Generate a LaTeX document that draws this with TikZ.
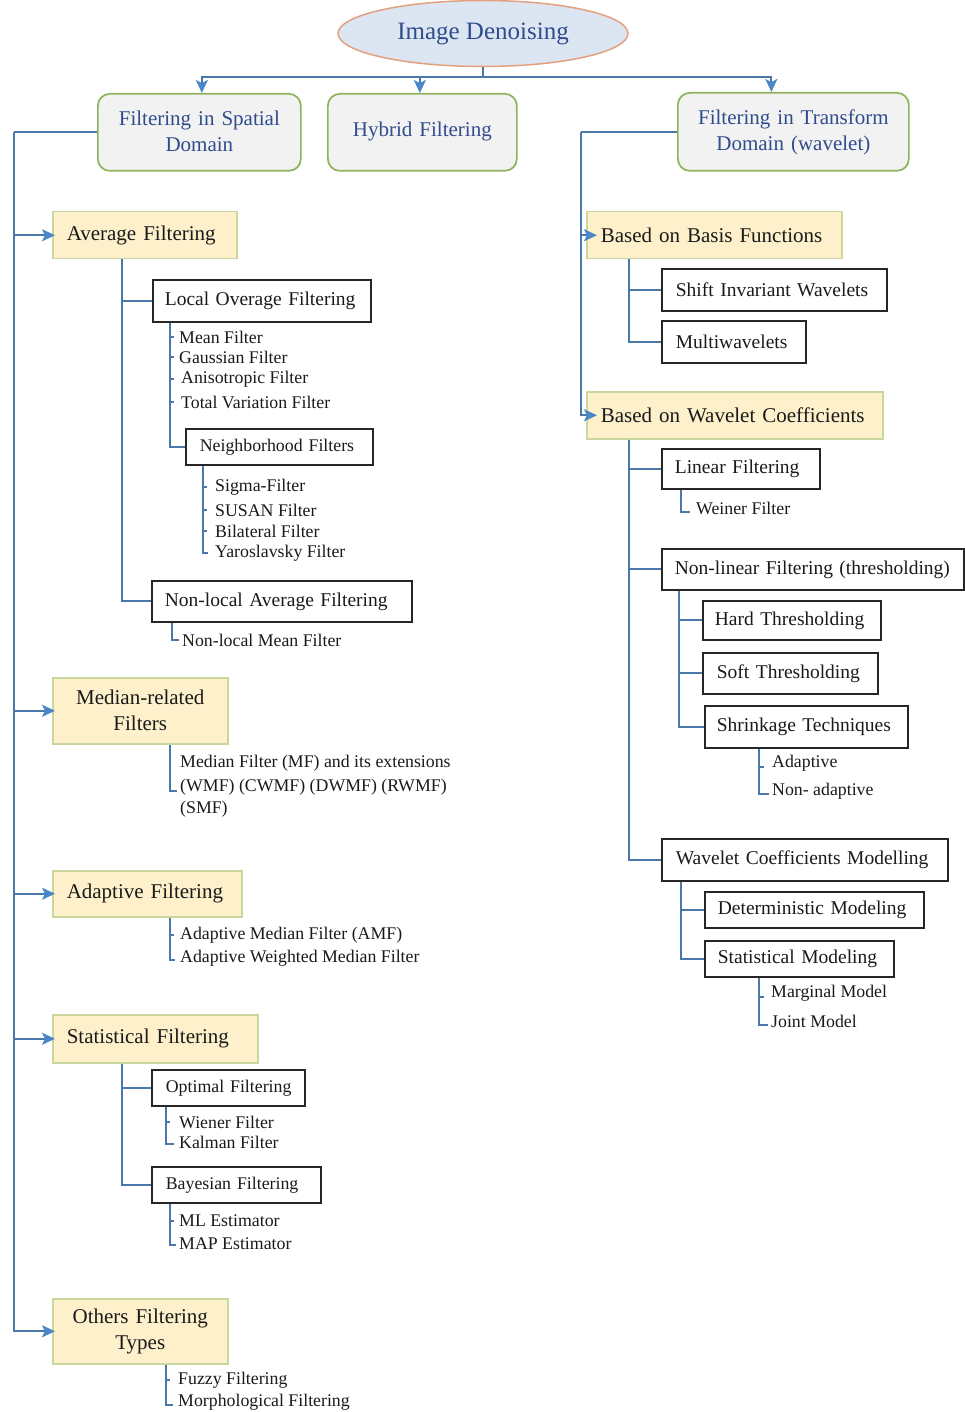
\documentclass[tikz,border=0pt]{standalone}
\usepackage{fontspec}
\setmainfont{Liberation Serif}
\usetikzlibrary{arrows.meta,calc,shapes.geometric}
\definecolor{lnc}{HTML}{4A78A8}
\definecolor{arc}{HTML}{4A86C8}
\definecolor{ellf}{HTML}{DCE6F2}
\definecolor{elld}{HTML}{E4A07E}
\definecolor{topf}{HTML}{F2F2F2}
\definecolor{topd}{HTML}{8FB35A}
\definecolor{yf}{HTML}{FDF0CA}
\definecolor{yd}{HTML}{C9D79E}
\definecolor{ttl}{HTML}{2F4C8C}
\definecolor{txt}{HTML}{1A1A1A}
\newcommand\mkbox[8]{%
  \pgfmathsetmacro\bw{#5-#3}%
  \pgfmathsetmacro\bh{#6-#4}%
  \pgfmathsetmacro\tw{#5-#3-2*#7}%
  \node[#1, anchor=north west, minimum width=\bw pt, minimum height=\bh pt,
        inner xsep=#7pt, inner ysep=2pt, text width=\tw pt] (#2) at (#3,#4) {#8};%
}
\newcommand\itm[4]{\node[it, anchor=west] (#1) at (#2,#3) {#4};}
\tikzset{
  ln/.style={draw=lnc, line width=1.8pt},
  arr/.style={ln, -{Stealth[length=13pt,width=12pt,inset=3pt,color=arc]}},
  yb/.style={draw=yd, fill=yf, line width=1.5pt, align=left, text=txt,
             font=\fontsize{21}{26}\selectfont},
  ybc/.style={yb, align=center},
  wb/.style={draw=black!85, fill=white, line width=1.7pt, align=left, text=txt,
             font=\fontsize{19.5}{22}\selectfont},
  wbs/.style={wb, font=\fontsize{17.8}{20}\selectfont},
  tb/.style={draw=topd, fill=topf, line width=1.7pt, rounded corners=12pt,
             align=center, text=ttl, font=\fontsize{21}{26}\selectfont},
  it/.style={inner xsep=0pt, inner ysep=1pt, text=txt,
             font=\fontsize{17.8}{21}\selectfont},
}
\begin{document}
\begin{tikzpicture}[x=1pt,y=-1pt]
\useasboundingbox[fill=white] (0,0) rectangle (965,1412);

% root
\node[ellipse, draw=elld, fill=ellf, line width=1.5pt, minimum width=290pt,
      minimum height=66pt, text=ttl, font=\fontsize{25}{29}\selectfont]
      (root) at (483,33.5) {Image Denoising};

% top boxes
\mkbox{tb}{sp}{97}{93}{300}{170}{8}{\raisebox{3pt}{Filtering in Spatial}\\\raisebox{3pt}{Domain}}
\mkbox{tb}{hy}{327}{93}{516}{170}{8}{\raisebox{6pt}{Hybrid Filtering}}
\mkbox{tb}{tr}{677}{92}{908}{170}{8}{Filtering in Transform\\Domain (wavelet)}

\draw[ln] (root.south) -- ++(0,10) coordinate (j);
\draw[arr] (j) -| ($(sp.north)+(2.5,0)$);
\draw[arr] (j) -| ($(hy.north)+(-2.5,0)$);
\draw[arr] (j) -| ($(tr.north)+(-22,0)$);

% yellow boxes
\mkbox{yb}{avg}{52}{211}{236}{258}{14}{Average Filtering}
\mkbox{ybc}{med}{52}{677}{227}{743}{6}{Median-related\\Filters}
\mkbox{yb}{ada}{52}{870}{241}{916}{14}{Adaptive Filtering}
\mkbox{yb}{sta}{52}{1014}{257}{1062}{14}{Statistical Filtering}
\mkbox{ybc}{oth}{52}{1298}{227}{1363}{6}{Others Filtering\\Types}
\mkbox{yb}{bbf}{586}{211}{841}{258}{14}{Based on Basis Functions}
\mkbox{yb}{bwc}{586}{391}{882}{438}{14}{Based on Wavelet Coefficients}

% white boxes
\mkbox{wb}{loc}{152}{279}{370}{321}{12}{Local Overage Filtering}
\mkbox{wbs}{nbh}{185}{428}{372}{464}{14}{Neighborhood Filters}
\mkbox{wb}{nla}{151}{580}{411}{621}{13}{Non-local Average Filtering}
\mkbox{wbs}{opt}{151}{1069}{304}{1105}{14}{\mbox{Optimal Filtering}}
\mkbox{wbs}{bay}{151}{1166}{320}{1202}{14}{\mbox{Bayesian Filtering}}
\mkbox{wb}{siw}{661}{268}{886}{310}{14}{Shift Invariant Wavelets}
\mkbox{wb}{mwv}{661}{320}{805}{362}{14}{Multiwavelets}
\mkbox{wb}{lin}{661}{448}{819}{488}{13}{Linear Filtering}
\mkbox{wb}{nlf}{661}{548}{963}{589}{13}{Non-linear Filtering (thresholding)}
\mkbox{wb}{hth}{702}{600}{880}{639}{12}{Hard Thresholding}
\mkbox{wb}{sth}{702}{652}{877}{693}{14}{Soft Thresholding}
\mkbox{wb}{shr}{704}{705}{907}{747}{12}{Shrinkage Techniques}
\mkbox{wb}{wcm}{661}{838}{947}{880}{14}{Wavelet Coefficients Modelling}
\mkbox{wb}{dtm}{704}{891}{923}{927}{13}{Deterministic Modeling}
\mkbox{wb}{stm}{704}{940}{893}{976}{13}{Statistical Modeling}

% spines
\draw[ln] (sp.west) -- ++(-83,0) coordinate (sL);
\foreach \t in {avg,med,ada,sta,oth} \draw[arr] (sL) |- ($(\t.west)+(3,0)$);
\draw[ln] (tr.west) -- ++(-96,0) coordinate (tL);
\foreach \t in {bbf,bwc} \draw[arr] (tL) |- ($(\t.west)+(11,0)$);

% sub-trees
\coordinate (av) at ($(avg.south west)+(70,0)$);
\draw[ln] (av) |- (loc.west); \draw[ln] (av) |- (nla.west);
\coordinate (sv) at ($(sta.south west)+(70,0)$);
\draw[ln] (sv) |- (opt.west); \draw[ln] (sv) |- (bay.west);
\coordinate (bv) at ($(bbf.south west)+(43,0)$);
\draw[ln] (bv) |- (siw.west); \draw[ln] (bv) |- (mwv.west);
\coordinate (wv) at ($(bwc.south west)+(43,0)$);
\draw[ln] (wv) |- (lin.west); \draw[ln] (wv) |- (nlf.west); \draw[ln] (wv) |- (wcm.west);
\coordinate (nv) at ($(nlf.south west)+(18,0)$);
\draw[ln] (nv) |- (hth.west); \draw[ln] (nv) |- (sth.west); \draw[ln] (nv) |- (shr.west);
\coordinate (mv) at ($(wcm.south west)+(20,0)$);
\draw[ln] (mv) |- (dtm.west); \draw[ln] (mv) |- (stm.west);

% lists: local
\itm{i1}{179}{337}{Mean Filter}
\itm{i2}{179}{357}{Gaussian Filter}
\itm{i3}{181}{379}{Anisotropic Filter}
\itm{i4}{181}{402}{Total Variation Filter}
\coordinate (lv) at ($(loc.south west)+(18,0)$);
\draw[ln] (lv) |- (nbh.west);
\foreach \t in {i1,i2,i3,i4} \draw[ln] (lv |- \t.west) -- ++(4,0);
% neighborhood
\itm{n1}{215}{487}{Sigma-Filter}
\itm{n2}{215}{510}{SUSAN Filter}
\itm{n3}{215}{531}{Bilateral Filter}
\itm{n4}{215}{553}{Yaroslavsky Filter}
\coordinate (hv) at ($(nbh.south west)+(18,0)$);
\foreach \t in {n1,n2,n3} \draw[ln] (hv |- \t.west) -- ++(4,0);
\draw[ln] (hv) |- ($(n4.west)+(-7,0)$);
% non-local
\itm{q1}{182}{640}{Non-local Mean Filter}
\draw[ln] ($(nla.south west)+(21,0)$) |- ($(q1.west)+(-3,0)$);
% median
\itm{m1}{180}{763}{Median Filter (MF) and its extensions}
\itm{m2}{180}{787}{(WMF) (CWMF) (DWMF) (RWMF)}
\itm{m3}{180}{809}{(SMF)}
\draw[ln] ($(med.south west)+(118,0)$) |- ($(m2.west)+(-3,4)$);
% adaptive
\itm{a1}{180}{935}{Adaptive Median Filter (AMF)}
\itm{a2}{180}{958}{Adaptive Weighted Median Filter}
\coordinate (dv) at ($(ada.south west)+(118,0)$);
\draw[ln] (dv |- a1.west) -- ++(4,0);
\draw[ln] (dv) |- ($(a2.west)+(-5,2)$);
% optimal
\itm{o1}{179}{1122}{Wiener Filter}
\itm{o2}{179}{1142}{Kalman Filter}
\coordinate (ov) at ($(opt.south west)+(15,0)$);
\draw[ln] (ov |- o1.west) -- ++(4,0);
\draw[ln] (ov) |- ($(o2.west)+(-5,2)$);
% bayesian
\itm{b1}{179}{1221}{ML Estimator}
\itm{b2}{179}{1244}{MAP Estimator}
\coordinate (yv) at ($(bay.south west)+(19,0)$);
\draw[ln] (yv |- b1.west) -- ++(4,0);
\draw[ln] (yv) |- ($(b2.west)+(-3,1)$);
% others
\itm{f1}{178}{1380}{Fuzzy Filtering}
\itm{f2}{178}{1402}{Morphological Filtering}
\coordinate (fv) at ($(oth.south west)+(114,0)$);
\draw[ln] (fv |- f1.west) -- ++(4,0);
\draw[ln] (fv) |- ($(f2.west)+(-5,3)$);
% linear
\itm{w1}{696}{508}{Weiner Filter}
\draw[ln] ($(lin.south west)+(20,0)$) |- ($(w1.west)+(-6,4)$);
% shrinkage
\itm{s1}{772}{763}{Adaptive}
\itm{s2}{772}{791}{Non- adaptive}
\coordinate (rv) at ($(shr.south west)+(55,0)$);
\draw[ln] (rv |- s1.west) ++(0,4) -- ++(5,0);
\draw[ln] (rv) |- ($(s2.west)+(-3,3)$);
% statistical modeling
\itm{t1}{771}{993}{Marginal Model}
\itm{t2}{771}{1021}{Joint Model}
\coordinate (tv) at ($(stm.south west)+(55,0)$);
\draw[ln] (tv |- t1.west) ++(0,4) -- ++(5,0);
\draw[ln] (tv) |- ($(t2.west)+(-3,4)$);
\end{tikzpicture}
\end{document}
